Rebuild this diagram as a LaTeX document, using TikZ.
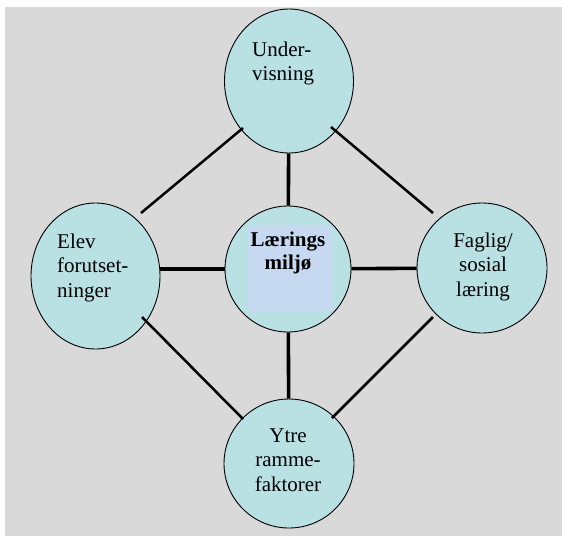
\documentclass[tikz,border=0pt]{standalone}
\usepackage{fontspec}
\setmainfont{Liberation Serif}
\usetikzlibrary{shapes.geometric}
\definecolor{bggrey}{HTML}{D9D9D9}
\definecolor{bubble}{HTML}{B9E0E3}
\definecolor{inner}{HTML}{C6D9F1}
\begin{document}
\begin{tikzpicture}[x=1pt,y=-1pt,
  bub/.style={ellipse,draw=black,line width=0.9pt,fill=bubble,inner sep=0pt},
  lbl/.style={inner sep=0pt,font=\fontsize{21}{24.5}\selectfont},
  thickline/.style={line width=3.6pt},
  thinline/.style={line width=2.5pt}]
\useasboundingbox (0,0) rectangle (562,536);
\fill[bggrey] (5,7) rectangle (562,536);
% bubbles
\node[bub,minimum width=129pt,minimum height=144pt] (top) at (289,81) {};
\node[bub,minimum width=129pt,minimum height=146pt] (left) at (95.5,276) {};
\node[bub,minimum width=130pt,minimum height=130pt] (right) at (482,268) {};
\node[bub,minimum width=130pt,minimum height=129pt] (bottom) at (289,463.5) {};
\node[bub,circle,minimum size=126pt] (center) at (288,269) {};
\fill[inner] (248,226) rectangle (332,311);
% labels (anchor = baseline of the last line)
\node[lbl,anchor=base west,align=left] (tTop) at (252,80.5) {Under-\\visning};
\node[lbl,anchor=base west,align=left] (tLeft) at (57,297) {Elev\\forutset-\\ninger};
\node[lbl,anchor=base,align=center] (tRight) at (483,296) {Faglig/\\sosial\\læring};
\node[lbl,anchor=base,align=center] (tBottom) at (288,491) {Ytre\\ramme-\\faktorer};
\node[lbl,anchor=base,align=center,font=\fontsize{21}{23}\selectfont\bfseries] (tCenter) at (288,269) {Lærings\\miljø};
% connectors
\draw[thickline] (top) -- (center);
\draw[thickline] (center) -- (bottom);
\draw[thickline] (center) -- (right);
\draw[thickline] (center.west) -- (center.west -| left.east);
\coordinate (a1) at (141,213); \coordinate (a2) at (243,128);
\coordinate (b1) at (331,127); \coordinate (b2) at (433,213);
\coordinate (c1) at (142,317); \coordinate (c2) at (243,419);
\coordinate (d1) at (433,317); \coordinate (d2) at (332,418);
\draw[thinline] (a1) -- (a2);
\draw[thinline] (b1) -- (b2);
\draw[thinline] (c1) -- (c2);
\draw[thinline] (d1) -- (d2);
\end{tikzpicture}
\end{document}
